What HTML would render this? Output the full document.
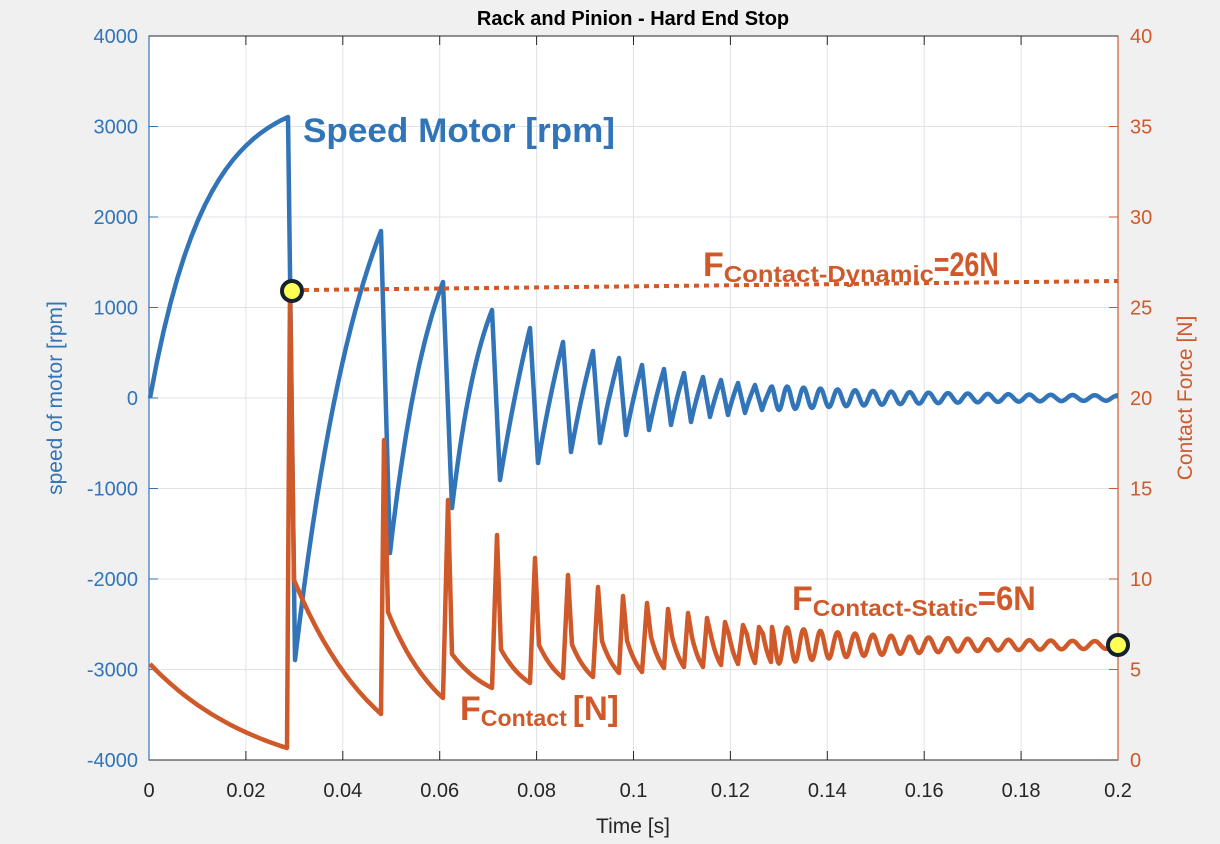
<!DOCTYPE html>
<html><head><meta charset="utf-8"><style>
html,body{margin:0;padding:0;background:#f0f0f0;}
svg{display:block;font-family:"Liberation Sans",Arial,sans-serif;}
</style></head><body>
<svg id="s" width="1220" height="844" viewBox="0 0 1220 844" xmlns="http://www.w3.org/2000/svg">
<rect x="0" y="0" width="1220" height="844" fill="#f0f0f0"/>
<rect x="149" y="36" width="969" height="724" fill="#fff"/>
<g id="grid" stroke="#dfe3e8" stroke-width="1"></g>
<g id="ticks"></g>
<rect x="149" y="36" width="969" height="724" fill="none" stroke="#262626" stroke-width="1"/>
<line x1="149" y1="36" x2="149" y2="760" stroke="#3174b8" stroke-width="1.2"/>
<line x1="1118" y1="36" x2="1118" y2="760" stroke="#d0592a" stroke-width="1.2"/>
<path id="blue" fill="none" stroke="#3174b8" stroke-width="4.5" stroke-linejoin="round"/>
<path id="orange" fill="none" stroke="#d0592a" stroke-width="4.5" stroke-linejoin="round"/>
<line x1="304" y1="290" x2="1118" y2="281" stroke="#d0592a" stroke-width="4" stroke-dasharray="5 5"/>
<circle cx="292" cy="291" r="10" fill="#ffff55" stroke="#14222e" stroke-width="4"/>
<circle cx="1118" cy="645" r="10" fill="#ffff55" stroke="#14222e" stroke-width="4"/>
<text x="633" y="25" text-anchor="middle" font-size="20" font-weight="bold" fill="#000">Rack and Pinion - Hard End Stop</text>
<text x="633" y="833" text-anchor="middle" font-size="21" fill="#262626">Time [s]</text>
<text transform="translate(62,398) rotate(-90)" text-anchor="middle" font-size="21" fill="#3174b8">speed of motor [rpm]</text>
<text transform="translate(1192,398) rotate(-90)" text-anchor="middle" font-size="21" fill="#d0592a">Contact Force [N]</text>
<g font-weight="bold">
<text x="303" y="142" font-size="34" fill="#3174b8" textLength="312" lengthAdjust="spacingAndGlyphs">Speed Motor [rpm]</text>
<text x="703" y="276" font-size="34" fill="#d0592a">F<tspan font-size="23" dy="6" textLength="210" lengthAdjust="spacingAndGlyphs">Contact-Dynamic</tspan><tspan dy="-6" textLength="65" lengthAdjust="spacingAndGlyphs">=26N</tspan></text>
<text x="792" y="610" font-size="34" fill="#d0592a">F<tspan font-size="23" dy="6" textLength="165" lengthAdjust="spacingAndGlyphs">Contact-Static</tspan><tspan dy="-6" textLength="58" lengthAdjust="spacingAndGlyphs">=6N</tspan></text>
<text x="460" y="720" font-size="34" fill="#d0592a">F<tspan font-size="23" dy="6" textLength="86" lengthAdjust="spacingAndGlyphs">Contact</tspan><tspan dy="-6" dx="6" textLength="46" lengthAdjust="spacingAndGlyphs">[N]</tspan></text>
</g>
</svg>
<script>
var NS="http://www.w3.org/2000/svg";
function el(p,t,a,txt){var e=document.createElementNS(NS,t);for(var k in a)e.setAttribute(k,a[k]);if(txt!=null)e.textContent=txt;p.appendChild(e);return e;}
var g=document.getElementById('grid'),tk=document.getElementById('ticks');
var X0=149,X1=1118,Y0=36,Y1=760;
for(var i=0;i<=10;i++){var x=X0+(X1-X0)*i/10;
 if(i>0&&i<10)el(g,'line',{x1:x,y1:Y0,x2:x,y2:Y1});
 el(tk,'line',{x1:x,y1:Y1,x2:x,y2:Y1-9,stroke:'#262626'});
 el(tk,'line',{x1:x,y1:Y0,x2:x,y2:Y0+9,stroke:'#262626'});
 var lab=i==0?'0':(i==10?'0.2':(i*0.02).toFixed(2).replace(/0$/,''));
 el(tk,'text',{x:x,y:797,'text-anchor':'middle','font-size':20,fill:'#262626'},lab);}
for(var j=0;j<=8;j++){var y=Y0+(Y1-Y0)*j/8;
 if(j>0&&j<8)el(g,'line',{x1:X0,y1:y,x2:X1,y2:y});
 el(tk,'line',{x1:X0,y1:y,x2:X0+9,y2:y,stroke:'#3174b8'});
 el(tk,'line',{x1:X1,y1:y,x2:X1-9,y2:y,stroke:'#d0592a'});
 el(tk,'text',{x:138,y:y+7,'text-anchor':'end','font-size':20,fill:'#3174b8'},String(4000-1000*j));
 el(tk,'text',{x:1130,y:y+7,'font-size':20,fill:'#d0592a'},String(40-5*j));}
var Z=398;
var pk=[[288,281],[381,167],[443,116],[492,88],[530,70],[563,56],[593,47],[619,40],[642,33],[664,29],[684,25],[703,21],[721,18],[738,15],[755,13],[771,11]];
var mn=[[295,262],[390,155],[452,110],[500,82],[538,65],[571,54],[600,45],[626,37],[649,32],[671,27],[691,24],[710,19],[728,17],[745,15],[762,12]];
var d='M150,'+Z;
function rise(x0,y0,x1,y1,k){var s='';for(var u=1;u<=20;u++){var t=u/20;var f=(1-Math.exp(-k*t))/(1-Math.exp(-k));s+=' L'+(x0+(x1-x0)*t).toFixed(1)+','+(y0+(y1-y0)*f).toFixed(1);}return s;}
d+=rise(150,Z,288,Z-281,2.5);
for(var i=0;i<mn.length;i++){
 d+=' L'+mn[i][0]+','+(Z+mn[i][1]);
 var k=i<3?1.2:0.4;
 d+=rise(mn[i][0],Z+mn[i][1],pk[i+1][0],Z-pk[i+1][1],k);}
var x=771,ph=0;
while(x<1118){var p=16+(x-771)/350*7;var a=11*Math.exp(-(x-771)/150)+1.5;ph+=2*Math.PI/p;x+=1;d+=' L'+x+','+(Z-a*Math.cos(ph)).toFixed(1);}
document.getElementById('blue').setAttribute('d',d);
var sp=[[290,290],[384,440],[448,500],[497,535],[535,558],[568,575],[598,587],[623,596],[647,603],[668,609],[688,613],[707,618],[725,622],[743,625],[759,627]];
var tr=[[287,748],[381,714],[443,698],[492,688],[530,683],[563,678],[593,677],[619,673],[642,672],[664,668],[684,667],[703,667],[721,665],[738,664],[755,663],[771,662]];
var o='M150,664';
for(var u=1;u<=20;u++){var t=u/20;o+=' L'+(150+137*t).toFixed(1)+','+(664+84*(1-Math.exp(-1.2*t))/(1-Math.exp(-1.2))).toFixed(1);}
for(var i=0;i<sp.length;i++){
 var sh=i==0?580:(i==1?612:tr[i+1][1]-35+i*0.5);
 o+=' L'+sp[i][0]+','+sp[i][1]+' L'+(sp[i][0]+4)+','+sh;
 var x0=sp[i][0]+4,x1=tr[i+1][0];
 for(var u=1;u<=12;u++){var t=u/12;var f=(1-Math.exp(-1.0*t))/(1-Math.exp(-1.0));o+=' L'+(x0+(x1-x0)*t).toFixed(1)+','+(sh+(tr[i+1][1]-sh)*f).toFixed(1);}
}
x=771;ph=Math.PI;var C=645;
while(x<1118){var p=16+(x-771)/350*7;var a=17*Math.exp(-(x-771)/130)+2.5;ph+=2*Math.PI/p;x+=1;o+=' L'+x+','+(C+a*Math.cos(ph)).toFixed(1);}
document.getElementById('orange').setAttribute('d',o);
</script>
</body></html>
